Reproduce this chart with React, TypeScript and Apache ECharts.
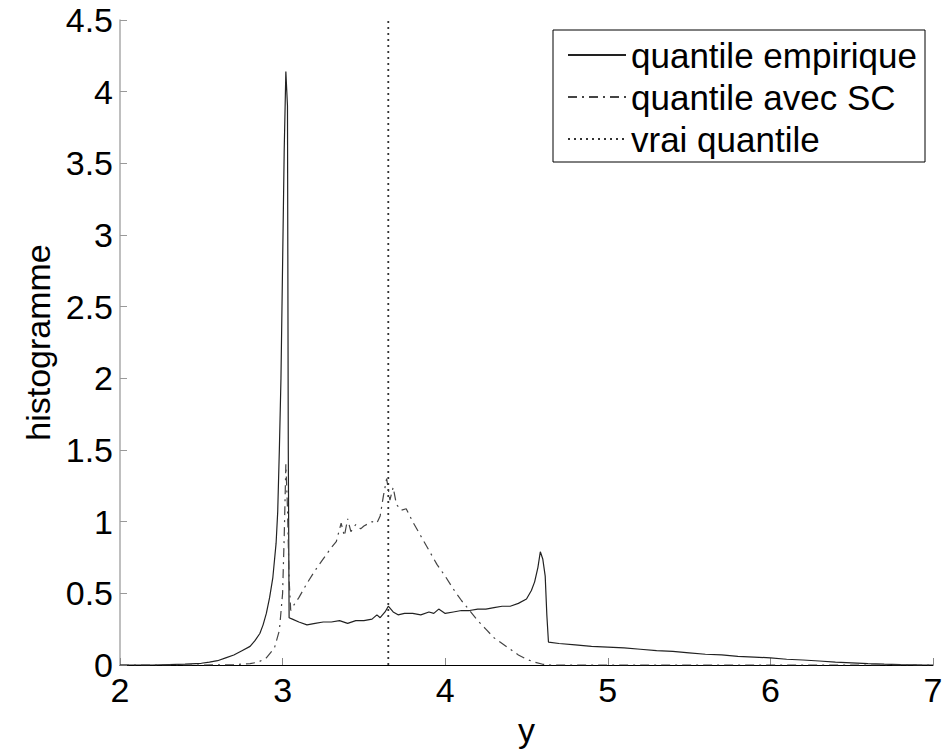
import React, { useEffect, useRef } from "react";
import * as echarts from "echarts";

const xTicks = [2, 3, 4, 5, 6, 7];
const yTicks = [0, 0.5, 1, 1.5, 2, 2.5, 3, 3.5, 4, 4.5];

const empX = [2.0, 2.2, 2.3, 2.4, 2.5, 2.55, 2.6, 2.65, 2.7, 2.75, 2.8, 2.83, 2.86, 2.88, 2.9, 2.92, 2.94, 2.96, 2.97, 2.98, 2.99, 3.0, 3.01, 3.02, 3.03, 3.035, 3.04, 3.06, 3.1, 3.15, 3.2, 3.25, 3.3, 3.35, 3.4, 3.45, 3.5, 3.55, 3.58, 3.6, 3.63, 3.65, 3.68, 3.71, 3.75, 3.8, 3.85, 3.9, 3.93, 3.96, 4.0, 4.05, 4.1, 4.15, 4.2, 4.25, 4.3, 4.35, 4.4, 4.45, 4.5, 4.53, 4.55, 4.57, 4.585, 4.6, 4.615, 4.625, 4.635, 4.7, 4.8, 4.9, 5.0, 5.1, 5.2, 5.3, 5.4, 5.5, 5.6, 5.7, 5.8, 5.9, 6.0, 6.1, 6.2, 6.3, 6.4, 6.5, 6.6, 6.7, 6.8, 6.9, 7.0];
const empY = [0, 0, 0.003, 0.006, 0.012, 0.02, 0.03, 0.05, 0.07, 0.1, 0.13, 0.17, 0.22, 0.28, 0.36, 0.47, 0.61, 0.85, 1.07, 1.5, 2.0, 2.8, 3.6, 4.14, 3.9, 1.5, 0.33, 0.32, 0.3, 0.28, 0.29, 0.3, 0.3, 0.31, 0.29, 0.31, 0.31, 0.32, 0.35, 0.33, 0.37, 0.41, 0.37, 0.35, 0.36, 0.36, 0.35, 0.37, 0.36, 0.39, 0.36, 0.37, 0.38, 0.38, 0.39, 0.39, 0.4, 0.41, 0.41, 0.43, 0.46, 0.52, 0.58, 0.68, 0.79, 0.74, 0.62, 0.35, 0.16, 0.15, 0.14, 0.13, 0.125, 0.12, 0.11, 0.1, 0.095, 0.085, 0.075, 0.07, 0.06, 0.055, 0.05, 0.04, 0.035, 0.028, 0.02, 0.015, 0.01, 0.006, 0.003, 0.001, 0];

const scX = [2.0, 2.5, 2.7, 2.8, 2.85, 2.9, 2.95, 2.98, 3.0, 3.01, 3.02, 3.03, 3.04, 3.05, 3.07, 3.1, 3.15, 3.2, 3.25, 3.3, 3.33, 3.36, 3.38, 3.4, 3.42, 3.45, 3.48, 3.5, 3.55, 3.58, 3.6, 3.62, 3.64, 3.66, 3.68, 3.7, 3.73, 3.76, 3.8, 3.85, 3.9, 3.95, 4.0, 4.05, 4.1, 4.15, 4.2, 4.25, 4.3, 4.35, 4.4, 4.45, 4.5, 4.55, 4.6, 4.65, 7.0];
const scY = [0, 0, 0.002, 0.01, 0.02, 0.05, 0.12, 0.24, 0.5, 0.9, 1.4, 1.1, 0.6, 0.38, 0.42, 0.47, 0.57, 0.66, 0.74, 0.82, 0.86, 0.99, 0.9, 1.02, 0.93, 0.98, 0.95, 0.97, 1.0, 0.99, 1.04, 1.18, 1.3, 1.15, 1.24, 1.12, 1.08, 1.09, 1.0, 0.9, 0.8, 0.7, 0.62, 0.53, 0.45, 0.38, 0.31, 0.25, 0.19, 0.15, 0.11, 0.07, 0.04, 0.02, 0.005, 0, 0];

const trueQuantile = 3.65;

const FONT = "'Liberation Sans', Arial, sans-serif";

export default function App() {
  const ref = useRef<HTMLDivElement>(null);
  useEffect(() => {
    const chart = echarts.init(ref.current!, null, { renderer: "svg" });
    chart.setOption({
      animation: false,
      backgroundColor: "#fff",
      grid: { left: 120, right: 14, top: 20, bottom: 81, containLabel: false },
      legend: {
        orient: "vertical",
        left: 553,
        top: 30,
        padding: [7, 8, 5, 14],
        itemWidth: 58,
        itemHeight: 14,
        itemGap: 6,
        borderColor: "#000",
        borderWidth: 1,
        backgroundColor: "#fff",
        itemStyle: { opacity: 0 },
        textStyle: { fontFamily: FONT, fontSize: 35, color: "#000", lineHeight: 36 },
        data: ["quantile empirique", "quantile avec SC", "vrai quantile"],
      },
      xAxis: {
        type: "value",
        min: xTicks[0],
        max: xTicks[xTicks.length - 1],
        interval: 1,
        name: "y",
        nameLocation: "middle",
        nameGap: 48,
        nameTextStyle: { fontFamily: FONT, fontSize: 34, color: "#000" },
        axisLine: { onZero: false, lineStyle: { color: "#000", width: 1 } },
        axisTick: { inside: true, length: 7, lineStyle: { color: "#888" } },
        axisLabel: { fontFamily: FONT, fontSize: 34, color: "#000", margin: 8 },
        splitLine: { show: false },
      },
      yAxis: {
        type: "value",
        min: yTicks[0],
        max: yTicks[yTicks.length - 1],
        interval: 0.5,
        name: "histogramme",
        nameLocation: "middle",
        nameGap: 62,
        nameTextStyle: { fontFamily: FONT, fontSize: 34, color: "#000" },
        axisLine: { show: true, lineStyle: { color: "#aaa", width: 1.5 } },
        axisTick: { show: true, inside: true, length: 7, lineStyle: { color: "#999" } },
        axisLabel: { fontFamily: FONT, fontSize: 34, color: "#000", margin: 7 },
        splitLine: { show: false },
      },
      series: [
        {
          name: "quantile empirique",
          type: "line",
          symbol: "none",
          data: empX.map((x, i) => [x, empY[i]]),
          lineStyle: { color: "#222", width: 1.2 },
          itemStyle: { color: "#222" },
        },
        {
          name: "quantile avec SC",
          type: "line",
          symbol: "none",
          data: scX.map((x, i) => [x, scY[i]]),
          lineStyle: { color: "#444", width: 1.2, type: [9, 5, 2, 5] },
          itemStyle: { color: "#444" },
        },
        {
          name: "vrai quantile",
          type: "line",
          symbol: "none",
          data: [
            [trueQuantile, yTicks[0]],
            [trueQuantile, yTicks[yTicks.length - 1]],
          ],
          lineStyle: { color: "#333", width: 1.8, type: [2, 4] },
          itemStyle: { color: "#333" },
        },
      ],
    });
    return () => chart.dispose();
  }, []);
  return <div ref={ref} style={{ width: 947, height: 752, position: "absolute", left: 0, top: 0 }} />;
}
